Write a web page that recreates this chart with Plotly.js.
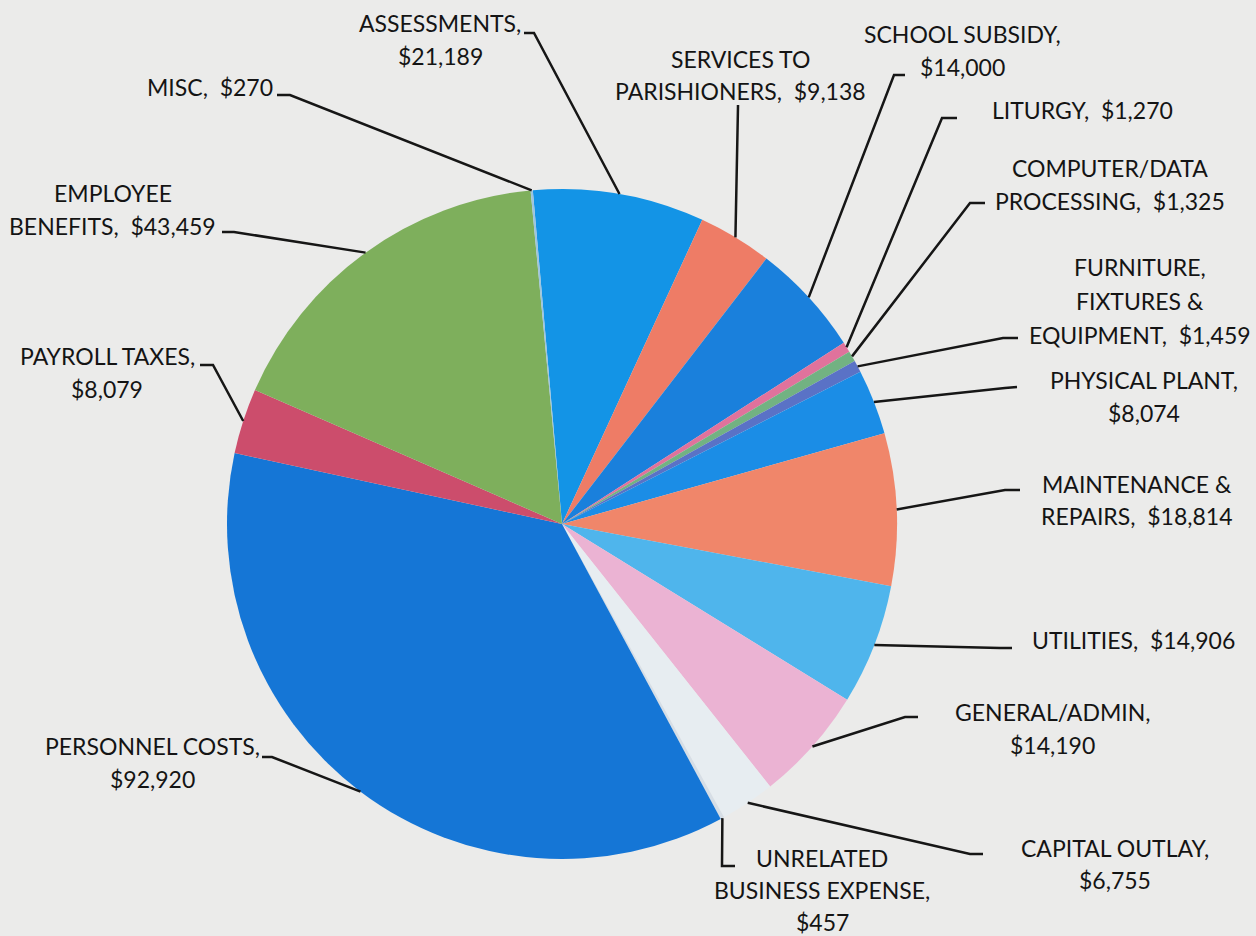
<!DOCTYPE html>
<html>
<head>
<meta charset="utf-8">
<script src="https://cdn.plot.ly/plotly-3.0.1.min.js"></script>
<style>
  html, body { margin: 0; padding: 0; background: #ebebea; }
  #chart { width: 1256px; height: 936px; }
</style>
</head>
<body>
<div id="chart"></div>
<script>
// ---- data ----
const categories = [
  "ASSESSMENTS",
  "SERVICES TO\nPARISHIONERS",
  "SCHOOL SUBSIDY",
  "LITURGY",
  "COMPUTER/DATA\nPROCESSING",
  "FURNITURE,\nFIXTURES &\nEQUIPMENT",
  "PHYSICAL PLANT",
  "MAINTENANCE &\nREPAIRS",
  "UTILITIES",
  "GENERAL/ADMIN",
  "CAPITAL OUTLAY",
  "UNRELATED\nBUSINESS EXPENSE",
  "PERSONNEL COSTS",
  "PAYROLL TAXES",
  "EMPLOYEE\nBENEFITS",
  "MISC"
];
const values = [21189, 9138, 14000, 1270, 1325, 1459, 8074, 18814, 14906, 14190, 6755, 457, 92920, 8079, 43459, 270];

// ---- style / layout ----
const sliceColors = [
  "#1394e6", "#ee7c66", "#1a80dc", "#e0729c", "#72b282", "#5a72c6",
  "#1b8de6", "#f0866a", "#4fb5ec", "#ebb3d3", "#e7edf1", "#d6dee6",
  "#1576d6", "#cc4d6c", "#7eaf5c", "#9cc4e0"
];
const W = 1256, H = 936;
const pieCenter = [562, 524];
const pieRadius = 335;
const pieRotation = -5;
// value placed on a new line (true) or after the name on the last line (false)
const valueOnNewLine = [true, false, true, false, false, false, true, false, false, true, true, true, true, true, false, false];
// label block: center x, first line center y, line gap (px)
const labelCenterX = [440, 740, 962, 1082, 1110, 1140, 1144, 1137, 1133, 1052, 1115, 822, 152, 107, 113, 210];
const labelFirstY  = [23, 59, 34, 110, 168, 267, 380, 484, 640, 712, 848, 858, 746, 356, 193, 87];
const labelGap     = [33, 32, 33, 33, 33, 34, 33, 32, 33, 33, 32, 32, 33, 33, 33, 33];
// leader: text-side start, elbow
const leaderStart = [[524,33],[738,105],[905,75],[957,118],[985,203],[1018,338],[1017,387],[1020,490],[1012,648],[918,717],[983,854],[735,866],[262,757],[200,365],[222,232],[277,95]];
const leaderElbow = [[534,33],[738,106],[894,75],[942,118],[970,203],[1003,338],[1005,388],[1005,490],[1000,648],[905,717],[970,854],[722,866],[272,757],[213,365],[234,232],[290,95]];

const fmt = v => "$" + v.toLocaleString("en-US");
const px = x => x / W;
const py = y => 1 - y / H;

const total = values.reduce((a, b) => a + b, 0);
const annotations = [];
const shapes = [];
let cum = 0;
values.forEach((v, i) => {
  const mid = (pieRotation + 360 * (cum + v / 2) / total) * Math.PI / 180;
  cum += v;
  const ex = pieCenter[0] + pieRadius * Math.sin(mid);
  const ey = pieCenter[1] - pieRadius * Math.cos(mid);
  const s = leaderStart[i], e = leaderElbow[i];
  shapes.push({
    type: "path", xref: "paper", yref: "paper",
    path: `M${px(s[0])},${py(s[1])} L${px(e[0])},${py(e[1])} L${px(ex)},${py(ey)}`,
    line: { color: "#161616", width: 2.5 }
  });
  const nameLines = categories[i].split("\n");
  let lines;
  if (valueOnNewLine[i]) {
    nameLines[nameLines.length - 1] += ",";
    lines = nameLines.concat([fmt(v)]);
  } else {
    nameLines[nameLines.length - 1] += ",\u00a0\u00a0" + fmt(v);
    lines = nameLines;
  }
  lines.forEach((t, k) => {
    annotations.push({
      xref: "paper", yref: "paper",
      x: px(labelCenterX[i]), y: py(labelFirstY[i] + k * labelGap[i]),
      xanchor: "center", yanchor: "middle",
      text: t, showarrow: false,
      font: { family: "Lato, 'Open Sans', sans-serif", size: 23, color: "#141414" }
    });
  });
});

const trace = {
  type: "pie",
  labels: categories.map(c => c.replace(/\n/g, " ")),
  values: values,
  sort: false,
  direction: "clockwise",
  rotation: pieRotation,
  textinfo: "none",
  hoverinfo: "label+value",
  marker: { colors: sliceColors, line: { width: 0 } },
  domain: {
    x: [px(pieCenter[0] - pieRadius), px(pieCenter[0] + pieRadius)],
    y: [py(pieCenter[1] + pieRadius), py(pieCenter[1] - pieRadius)]
  },
  showlegend: false
};

const layout = {
  width: W, height: H,
  margin: { l: 0, r: 0, t: 0, b: 0 },
  paper_bgcolor: "#ebebea",
  plot_bgcolor: "#ebebea",
  showlegend: false,
  annotations: annotations,
  shapes: shapes
};

Plotly.newPlot("chart", [trace], layout, { displayModeBar: false, staticPlot: true });
</script>
</body>
</html>
